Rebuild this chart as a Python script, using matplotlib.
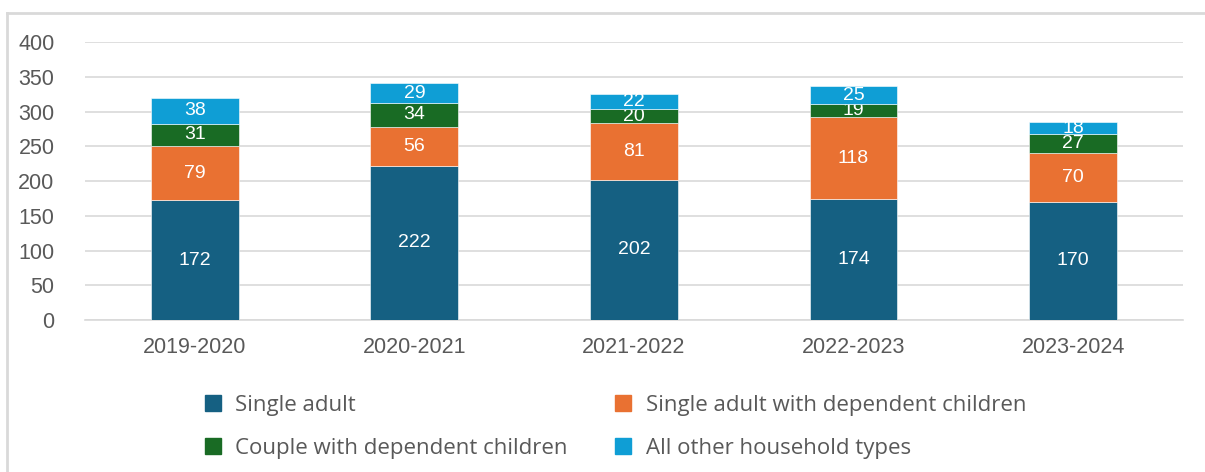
import numpy as np
import matplotlib.pyplot as plt
from matplotlib.lines import Line2D

# Households by type, per year
years = ['2019-2020', '2020-2021', '2021-2022', '2022-2023', '2023-2024']
single_adult = [172, 222, 202, 174, 170]
single_with_children = [79, 56, 81, 118, 70]
couple_with_children = [31, 34, 20, 19, 27]
other_types = [38, 29, 22, 25, 18]

series_names = ['Single adult', 'Single adult with dependent children',
                'Couple with dependent children', 'All other household types']
colours = ['#156082', '#E97132', '#196B24', '#0F9ED5']

plt.rcParams['font.family'] = ['Liberation Sans', 'DejaVu Sans']
grey_text = '#595959'

fig = plt.figure(figsize=(12.05, 4.72), dpi=100)
ax = fig.add_axes([0.0705, 0.322, 0.9112, 0.589])

x = np.arange(len(years))
bottom = np.zeros(len(years))
for name, vals, col in zip(series_names,
                           [single_adult, single_with_children, couple_with_children, other_types],
                           colours):
    vals = np.array(vals, dtype=float)
    bars = ax.bar(x, vals, 0.4, bottom=bottom, color=col, edgecolor='white', linewidth=0.4,
                  label=name, zorder=3)
    ax.bar_label(bars, labels=[str(int(v)) for v in vals], label_type='center',
                 color='white', fontsize=14)
    bottom += vals

ax.set_xlim(-0.5, len(years) - 0.5)
ax.set_ylim(0, 400)
ax.set_yticks(np.arange(0, 401, 50))
ax.set_xticks(x)
ax.set_xticklabels(years)
ax.yaxis.grid(True, color='#d9d9d9', linewidth=1.2, zorder=0)
ax.tick_params(axis='y', length=0, pad=22, labelsize=15.5, labelcolor=grey_text)
ax.tick_params(axis='x', length=0, pad=12, labelsize=15.5, labelcolor=grey_text)
for side in ['top', 'right', 'left']:
    ax.spines[side].set_visible(False)
ax.spines['bottom'].set_color('#d9d9d9')
ax.spines['bottom'].set_linewidth(1.2)

# legend below the plot, two rows of two (legend fills column by column)
order = [0, 2, 1, 3]
leg_handles = [Line2D([], [], marker='s', linestyle='none', markersize=12,
                      markerfacecolor=colours[i], markeredgecolor=colours[i]) for i in order]
fig.legend(leg_handles, [series_names[i] for i in order], loc='center',
           bbox_to_anchor=(0.505, 0.095), ncol=2, frameon=False, labelcolor=grey_text,
           handletextpad=0.0, columnspacing=1.5, labelspacing=1.0,
           prop={'family': ['Open Sans', 'DejaVu Sans'], 'size': 16})

# frame lines along the top and left of the figure
fig.add_artist(Line2D([7 / 1205, 1.0], [1 - 13 / 472, 1 - 13 / 472],
                      transform=fig.transFigure, color='#d9d9d9', linewidth=2))
fig.add_artist(Line2D([7 / 1205, 7 / 1205], [0, 1 - 13 / 472],
                      transform=fig.transFigure, color='#d9d9d9', linewidth=2))

fig.savefig('out.png', dpi=100)
